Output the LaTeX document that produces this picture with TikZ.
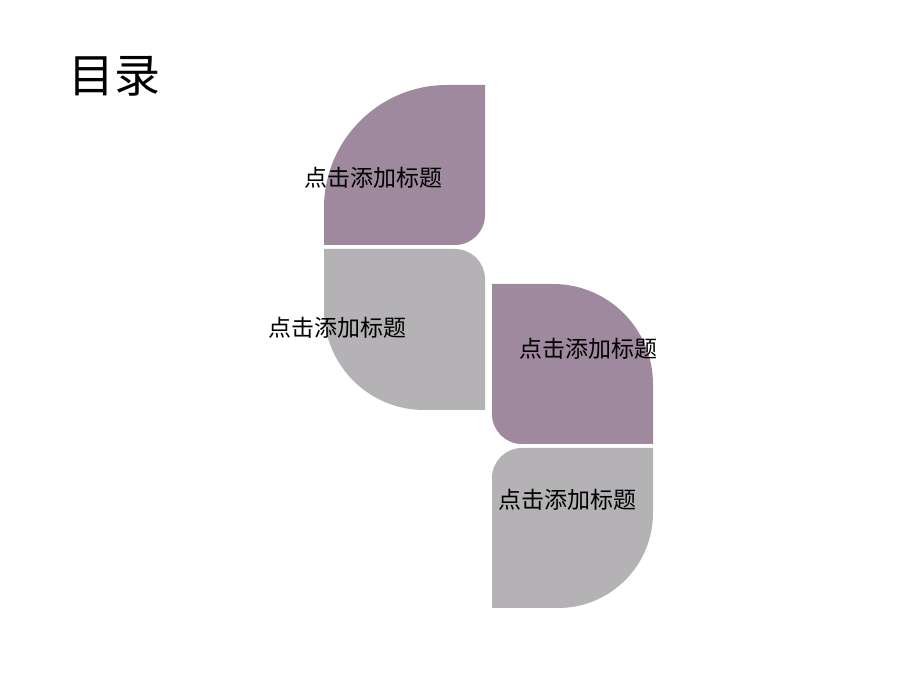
\documentclass[tikz,border=0pt]{standalone}
\usepackage{fontspec}
\newfontfamily\cjk{Noto Sans CJK SC}
\definecolor{petalpurple}{RGB}{158,137,158}
\definecolor{petalgray}{RGB}{180,178,181}
\begin{document}
\begin{tikzpicture}[x=1pt,y=1pt,
  lbl/.style={font=\cjk\fontsize{23pt}{23pt}\selectfont, text=black, inner sep=0pt},
  ttl/.style={font=\cjk\fontsize{46pt}{46pt}\selectfont, text=black, inner sep=0pt}]
\fill[white] (0,0) rectangle (920,690);
\useasboundingbox (0,0) rectangle (920,690);
% shape 1 (purple, top-left)
\fill[petalpurple] (324,445) -- (324,482) arc[start angle=180,end angle=90,radius=123]
  -- (485,605) -- (485,475) arc[start angle=0,end angle=-90,radius=30] -- cycle;
% shape 2 (gray)
\fill[petalgray] (324,441) -- (455,441) arc[start angle=90,end angle=0,radius=30]
  -- (485,280) -- (424,280) arc[start angle=270,end angle=180,radius=100] -- cycle;
% shape 3 (purple)
\fill[petalpurple] (492,406) -- (553,406) arc[start angle=90,end angle=0,radius=100]
  -- (653,246) -- (522,246) arc[start angle=270,end angle=180,radius=30] -- cycle;
% shape 4 (gray)
\fill[petalgray] (492,82) -- (492,212) arc[start angle=180,end angle=90,radius=30]
  -- (653,242) -- (653,177) arc[start angle=0,end angle=-90,radius=95] -- cycle;
\node[ttl] (title) at (114,614) {目录};
\node[lbl] (t1) at (373.5,512) {点击添加标题};
\node[lbl] (t2) at (337,362) {点击添加标题};
\node[lbl] (t3) at (588.5,341) {点击添加标题};
\node[lbl] (t4) at (567,190) {点击添加标题};
\end{tikzpicture}
\end{document}
